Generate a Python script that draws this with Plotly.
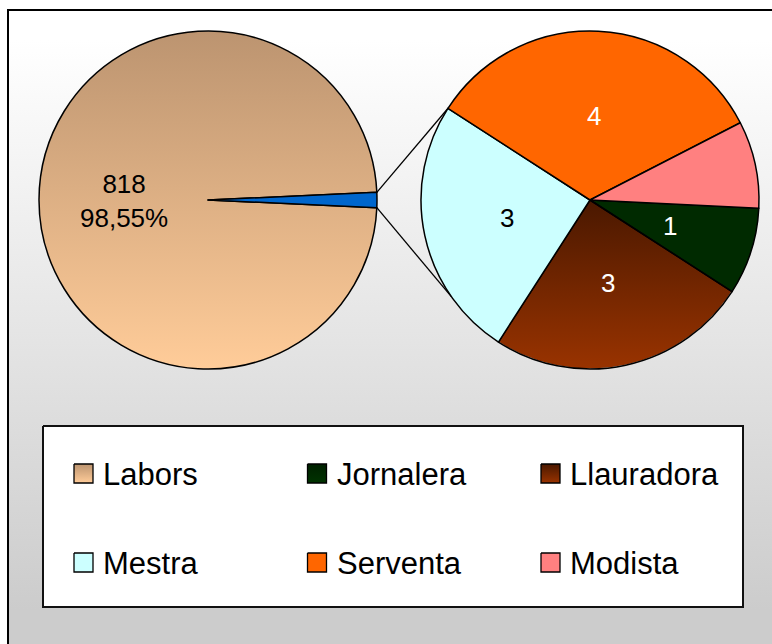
import numpy as np
import plotly.graph_objects as go

# ---------------- data ----------------
labors_label = "Labors"
labors_value = 818
other_label = "Altres"
detail_labels = ["Jornalera", "Llauradora", "Mestra", "Serventa", "Modista"]
detail_values = [1, 3, 3, 4, 1]
detail_show_label = [True, True, True, True, False]
legend_order = ["Labors", "Jornalera", "Llauradora", "Mestra", "Serventa", "Modista"]

main_labels = [labors_label, other_label]
main_values = [labors_value, sum(detail_values)]

# ---------------- styles ----------------
FONT = "Liberation Sans, Arial, sans-serif"
W, H = 772, 644
R = 169
L_CX, L_CY = 208, 200
R_CX, R_CY = 590, 200
TRANSP = "rgba(0,0,0,0)"
BLUE = "#0066CC"
GRAD = {
    "Labors": ("#BC9470", "#FFCC99"),
    "Jornalera": ("#002000", "#003300"),
    "Llauradora": ("#4A1800", "#993300"),
    "Mestra": ("#CCFFFF", "#CCFFFF"),
    "Serventa": ("#FF6600", "#FF6600"),
    "Modista": ("#FF8080", "#FF8080"),
}
detail_fill = {"Jornalera": "#002A00", "Llauradora": TRANSP, "Mestra": "#CCFFFF",
               "Serventa": "#FF6600", "Modista": "#FF8080"}
detail_text_color = {"Jornalera": "white", "Llauradora": "white", "Mestra": "black",
                     "Serventa": "white", "Modista": "white"}
LW = 1.5

total_main = sum(main_values)
other_deg = 360.0 * main_values[1] / total_main
L_ROT = 90 + other_deg / 2          # small slice centred at 3 o'clock
R_ROT = 92.8


def dom(cx, cy):
    return dict(x=[(cx - R) / W, (cx + R) / W], y=[(H - cy - R) / H, (H - cy + R) / H])


def pt(cx, cy, r, compass_deg):
    a = np.deg2rad(compass_deg)
    return cx + r * np.sin(a), cy - r * np.cos(a)


def mid_angles(values, rot):
    tot = sum(values)
    out, acc = [], rot
    for v in values:
        d = 360.0 * v / tot
        out.append(acc + d / 2)
        acc += d
    return out


fig = go.Figure()

# background gradient (chart area)
fig.add_trace(go.Scatter(
    x=[8, W, W, 8, 8], y=[10, 10, H, H, 10], mode="lines", line=dict(width=0),
    fill="toself", fillgradient=dict(type="vertical", colorscale=[[0, "#FFFFFF"], [1, "#CCCCCC"]],
                                     start=40, stop=610),
    hoverinfo="skip"))

th = np.linspace(0, 2 * np.pi, 721)
# gradient behind Labors slice
c0, c1 = GRAD["Labors"]
fig.add_trace(go.Scatter(
    x=L_CX + R * np.cos(th), y=L_CY + R * np.sin(th), mode="lines", line=dict(width=0),
    fill="toself", fillgradient=dict(type="vertical", colorscale=[[0, c0], [1, c1]],
                                     start=L_CY - R, stop=L_CY + R),
    hoverinfo="skip"))
# gradient behind Llauradora slice
c0, c1 = GRAD["Llauradora"]
fig.add_trace(go.Scatter(
    x=R_CX + (R - 0.5) * np.cos(th), y=R_CY + (R - 0.5) * np.sin(th), mode="lines", line=dict(width=0),
    fill="toself", fillgradient=dict(type="vertical", colorscale=[[0, c0], [1, c1]],
                                     start=R_CY, stop=R_CY + R),
    hoverinfo="skip"))

# connector lines
p_top_l = pt(L_CX, L_CY, R, 90 - other_deg / 2)
p_bot_l = pt(L_CX, L_CY, R, 90 + other_deg / 2)
p_top_r = pt(R_CX, R_CY, R, 303)
p_bot_r = pt(R_CX, R_CY, R, 235)
for a, b in [(p_top_l, p_top_r), (p_bot_l, p_bot_r)]:
    fig.add_trace(go.Scatter(x=[a[0], b[0]], y=[a[1], b[1]], mode="lines",
                             line=dict(color="black", width=1.3), hoverinfo="skip"))

# legend box
LB = dict(x0=43, y0=426, x1=743, y1=607)
fig.add_trace(go.Scatter(
    x=[LB["x0"], LB["x1"], LB["x1"], LB["x0"], LB["x0"]],
    y=[LB["y0"], LB["y0"], LB["y1"], LB["y1"], LB["y0"]],
    mode="lines", line=dict(color="#111111", width=2), fill="toself", fillcolor="white",
    hoverinfo="skip"))

col_x = [74, 307.5, 541]
row_y = [464, 553]
SQ = 19
annotations = []
for i, name in enumerate(legend_order):
    cx0 = col_x[i % 3]
    cy0 = row_y[i // 3]
    g0, g1 = GRAD[name]
    fig.add_trace(go.Scatter(
        x=[cx0, cx0 + SQ, cx0 + SQ, cx0, cx0], y=[cy0, cy0, cy0 + SQ, cy0 + SQ, cy0],
        mode="lines", line=dict(color="black", width=1.3), fill="toself",
        fillgradient=dict(type="vertical", colorscale=[[0, g0], [1, g1]], start=cy0, stop=cy0 + SQ),
        hoverinfo="skip"))
    annotations.append(dict(x=cx0 + 27, y=cy0 + SQ / 2 + 0.5, xref="x", yref="y", text=name,
                            showarrow=False, xanchor="left", yanchor="middle",
                            font=dict(family=FONT, size=31, color="black")))

# pies
fig.add_trace(go.Pie(
    labels=main_labels, values=main_values, sort=False, direction="clockwise", rotation=L_ROT,
    marker=dict(colors=[TRANSP, BLUE], line=dict(color="black", width=LW)),
    textinfo="none", domain=dom(L_CX, L_CY), hoverinfo="label+value+percent", showlegend=False))
fig.add_trace(go.Pie(
    labels=detail_labels, values=detail_values, sort=False, direction="clockwise", rotation=R_ROT,
    marker=dict(colors=[detail_fill[n] for n in detail_labels], line=dict(color="black", width=LW)),
    textinfo="none", domain=dom(R_CX, R_CY), hoverinfo="label+value", showlegend=False))

# data labels (at half radius along each slice's mid angle)
pct = 100.0 * main_values[0] / total_main
lx, ly = pt(L_CX, L_CY, R * 0.5, mid_angles(main_values, L_ROT)[0])
annotations.append(dict(x=lx, y=ly + 1, xref="x", yref="y",
                        text=f"{main_values[0]}<br>{pct:.2f}%".replace(".", ","),
                        showarrow=False, font=dict(family=FONT, size=26, color="black")))
for name, v, show, m in zip(detail_labels, detail_values, detail_show_label,
                            mid_angles(detail_values, R_ROT)):
    if not show:
        continue
    x, y = pt(R_CX, R_CY, R * 0.5, m)
    annotations.append(dict(x=x, y=y, xref="x", yref="y", text=str(v), showarrow=False,
                            font=dict(family=FONT, size=26, color=detail_text_color[name])))

fig.update_layout(
    width=W, height=H, margin=dict(l=0, r=0, t=0, b=0),
    paper_bgcolor="white", plot_bgcolor="white", showlegend=False,
    xaxis=dict(range=[0, W], visible=False, fixedrange=True),
    yaxis=dict(range=[H, 0], visible=False, fixedrange=True),
    annotations=annotations,
    shapes=[dict(type="rect", xref="x", yref="y", x0=8, y0=10, x1=W + 20, y1=H + 20,
                 line=dict(color="black", width=2), fillcolor=TRANSP, layer="above")],
)

fig.write_html("out.html", config={"displayModeBar": False},
               post_script="document.body.style.margin='0';document.body.style.overflow='hidden';")
